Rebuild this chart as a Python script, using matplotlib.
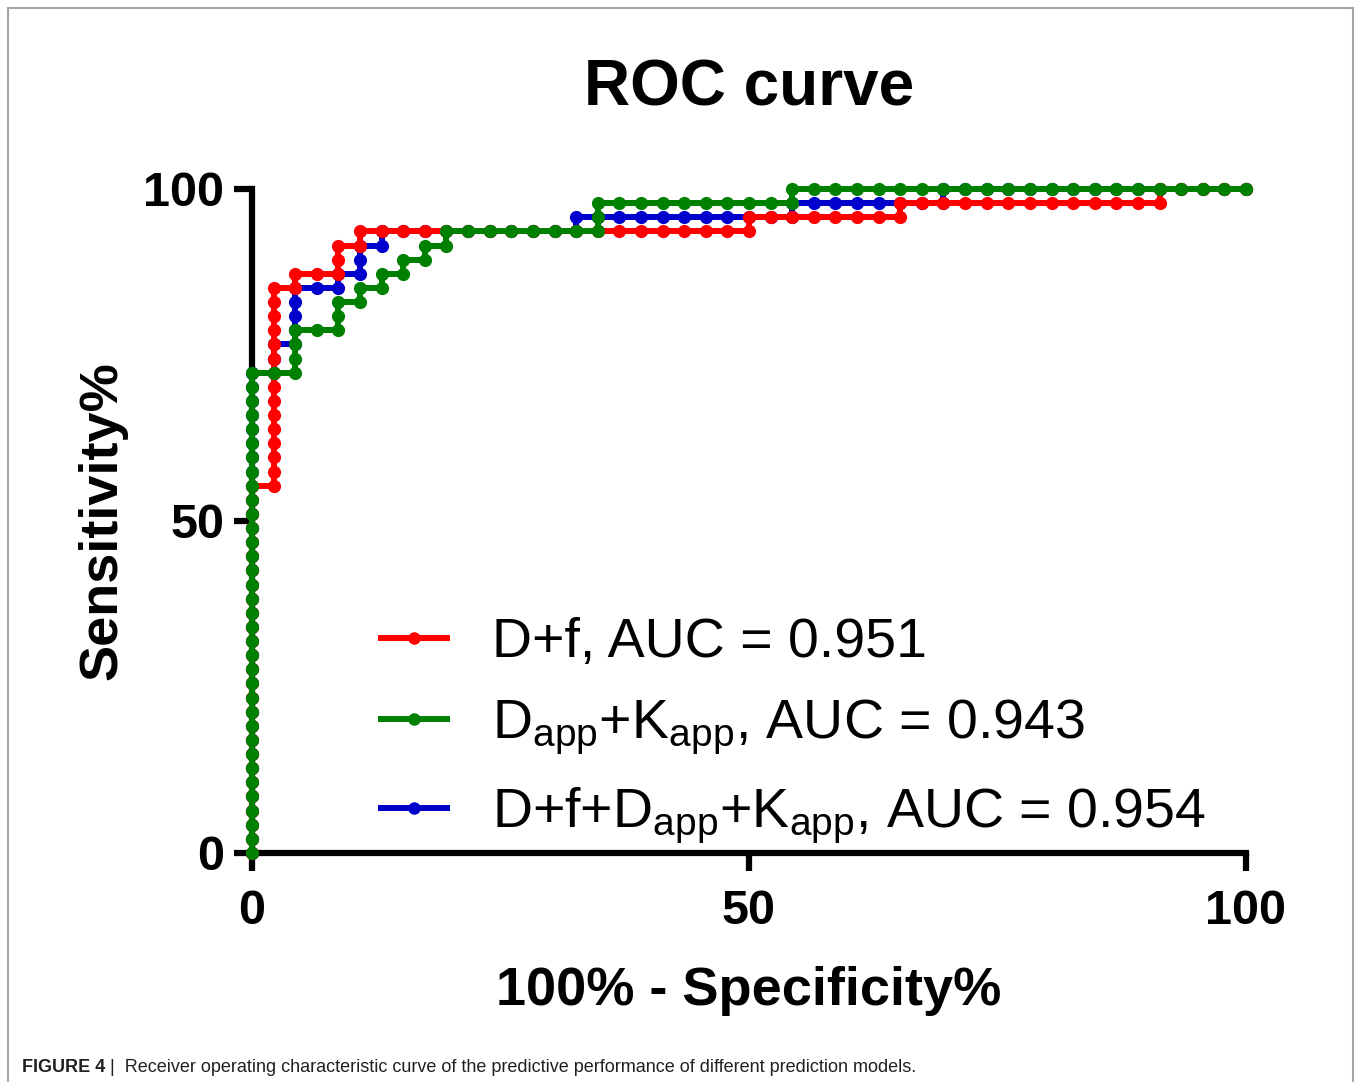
import matplotlib
matplotlib.use("Agg")
import matplotlib.pyplot as plt
from matplotlib.patches import Rectangle

plt.rcParams["font.family"] = ["Liberation Sans", "DejaVu Sans"]
plt.rcParams["mathtext.fontset"] = "custom"
plt.rcParams["mathtext.rm"] = "Liberation Sans"
plt.rcParams["mathtext.it"] = "Liberation Sans:italic"
plt.rcParams["mathtext.bf"] = "Liberation Sans:bold"

N_NEG = 46   # controls -> x step
N_POS = 47   # cases    -> y step

# ROC points as (false positive count, true positive count)
RED_FP = [0, 0, 0, 0, 0, 0, 0, 0, 0, 0, 0, 0, 0, 0, 0, 0, 0, 0, 0, 0, 0, 0, 0, 0, 0, 0, 0,
          1, 1, 1, 1, 1, 1, 1, 1, 1, 1, 1, 1, 1, 1, 1,
          2, 2, 3, 4, 4, 4, 5, 5,
          6, 7, 8, 9, 10, 11, 12, 13, 14, 15, 16, 17, 18, 19, 20, 21, 22,
          23, 23, 24, 25, 26, 27, 28, 29, 30, 30,
          31, 32, 33, 34, 35, 36, 37, 38, 39, 40, 41, 42, 42, 43, 44, 45, 46]
RED_TP = [0, 1, 2, 3, 4, 5, 6, 7, 8, 9, 10, 11, 12, 13, 14, 15, 16, 17, 18, 19, 20, 21, 22, 23, 24, 25, 26,
          26, 27, 28, 29, 30, 31, 32, 33, 34, 35, 36, 37, 38, 39, 40,
          40, 41, 41, 41, 42, 43, 43, 44,
          44, 44, 44, 44, 44, 44, 44, 44, 44, 44, 44, 44, 44, 44, 44, 44, 44,
          44, 45, 45, 45, 45, 45, 45, 45, 45, 46,
          46, 46, 46, 46, 46, 46, 46, 46, 46, 46, 46, 46, 47, 47, 47, 47, 47]

GREEN_FP = [0, 0, 0, 0, 0, 0, 0, 0, 0, 0, 0, 0, 0, 0, 0, 0, 0, 0, 0, 0, 0, 0, 0, 0, 0, 0, 0, 0, 0, 0, 0, 0, 0, 0, 0,
            1, 2, 2, 2, 2, 3, 4, 4, 4, 5, 5, 6, 6, 7, 7, 8, 8, 9, 9,
            10, 11, 12, 13, 14, 15, 16, 16, 16,
            17, 18, 19, 20, 21, 22, 23, 24, 25, 25,
            26, 27, 28, 29, 30, 31, 32, 33, 34, 35, 36, 37, 38, 39, 40, 41, 42, 43, 44, 45, 46]
GREEN_TP = [0, 1, 2, 3, 4, 5, 6, 7, 8, 9, 10, 11, 12, 13, 14, 15, 16, 17, 18, 19, 20, 21, 22, 23, 24, 25, 26, 27, 28, 29, 30, 31, 32, 33, 34,
            34, 34, 35, 36, 37, 37, 37, 38, 39, 39, 40, 40, 41, 41, 42, 42, 43, 43, 44,
            44, 44, 44, 44, 44, 44, 44, 45, 46,
            46, 46, 46, 46, 46, 46, 46, 46, 46, 47,
            47, 47, 47, 47, 47, 47, 47, 47, 47, 47, 47, 47, 47, 47, 47, 47, 47, 47, 47, 47, 47]

BLUE_FP = [0, 0, 0, 0, 0, 0, 0, 0, 0, 0, 0, 0, 0, 0, 0, 0, 0, 0, 0, 0, 0, 0, 0, 0, 0, 0, 0, 0, 0, 0, 0, 0, 0, 0, 0,
           1, 1, 1, 2, 2, 2, 2, 2, 3, 4, 4, 5, 5, 5, 6, 6,
           7, 8, 9, 10, 11, 12, 13, 14, 15, 15,
           16, 17, 18, 19, 20, 21, 22, 23, 24, 25, 25,
           26, 27, 28, 29, 30, 31, 32, 32,
           33, 34, 35, 36, 37, 38, 39, 40, 41, 42, 43, 44, 45, 46]
BLUE_TP = [0, 1, 2, 3, 4, 5, 6, 7, 8, 9, 10, 11, 12, 13, 14, 15, 16, 17, 18, 19, 20, 21, 22, 23, 24, 25, 26, 27, 28, 29, 30, 31, 32, 33, 34,
           34, 35, 36, 36, 37, 38, 39, 40, 40, 40, 41, 41, 42, 43, 43, 44,
           44, 44, 44, 44, 44, 44, 44, 44, 44, 45,
           45, 45, 45, 45, 45, 45, 45, 45, 45, 45, 46,
           46, 46, 46, 46, 46, 46, 46, 47,
           47, 47, 47, 47, 47, 47, 47, 47, 47, 47, 47, 47, 47, 47]

SERIES = [
    ("D+f, AUC = 0.951", RED_FP, RED_TP, "#FF0000", 4),
    (r"D$_{\mathregular{app}}$+K$_{\mathregular{app}}$, AUC = 0.943", GREEN_FP, GREEN_TP, "#008000", 5),
    (r"D+f+D$_{\mathregular{app}}$+K$_{\mathregular{app}}$, AUC = 0.954", BLUE_FP, BLUE_TP, "#0000CC", 3),
]

W, H = 1356, 1082
fig = plt.figure(figsize=(W / 100, H / 100), dpi=100)
ax = fig.add_axes([252 / W, 1 - 853 / H, (1246 - 252) / W, (853 - 189) / H])

handles = []
for label, fp, tp, color, z in SERIES:
    x = [100 * v / N_NEG for v in fp]
    y = [100 * v / N_POS for v in tp]
    h, = ax.plot(x, y, color=color, lw=4.3, marker="o", ms=9.5, mew=0,
                 zorder=z, clip_on=False, label=label, solid_capstyle="butt")
    handles.append(h)

ax.set_xlim(0, 100)
ax.set_ylim(0, 100)
ax.set_xticks([0, 50, 100])
ax.set_yticks([0, 50, 100])
for s in ["top", "right"]:
    ax.spines[s].set_visible(False)
for s in ["left", "bottom"]:
    ax.spines[s].set_linewidth(4.5)
ax.tick_params(axis="both", length=13, width=4.5, labelsize=35)
ax.tick_params(axis="x", pad=13)
ax.tick_params(axis="y", pad=7)
for t in ax.get_xticklabels() + ax.get_yticklabels():
    t.set_fontweight("bold")

ax.set_title("ROC curve", fontsize=46, fontweight="bold", pad=60)
ax.set_xlabel("100% - Specificity%", fontsize=39, fontweight="bold", labelpad=23)
ax.set_ylabel("Sensitivity%", fontsize=39, fontweight="bold", labelpad=11)

leg = ax.legend(handles=handles, loc="upper left",
                bbox_to_anchor=(378 / W, 1 - 617 / H), bbox_transform=fig.transFigure,
                frameon=False, fontsize=40, handlelength=1.3, handletextpad=0.75,
                labelspacing=0.52, borderpad=0, borderaxespad=0)
for line in leg.get_lines():
    line.set_markersize(9)

# panel frame and caption
fig.add_artist(Rectangle((8 / W, -0.05), (1353 - 8) / W, 1.05 - 8 / H,
                         transform=fig.transFigure, fill=False,
                         edgecolor="#A6A6A6", lw=1.5))
cap_font = ["Liberation Sans Narrow", "Liberation Sans"]
t1 = fig.text(22 / W, 1 - 1068 / H, "FIGURE 4", fontsize=13, fontweight="bold",
              family=cap_font, va="center", ha="left", color="#231F20")
fig.canvas.draw()
bb = t1.get_window_extent()
fig.text((bb.x1 + 5) / W, 1 - 1068 / H,
         "|  Receiver operating characteristic curve of the predictive performance of different prediction models.",
         fontsize=13, family=cap_font, va="center", ha="left", color="#231F20")

fig.savefig("out.png", dpi=100)
